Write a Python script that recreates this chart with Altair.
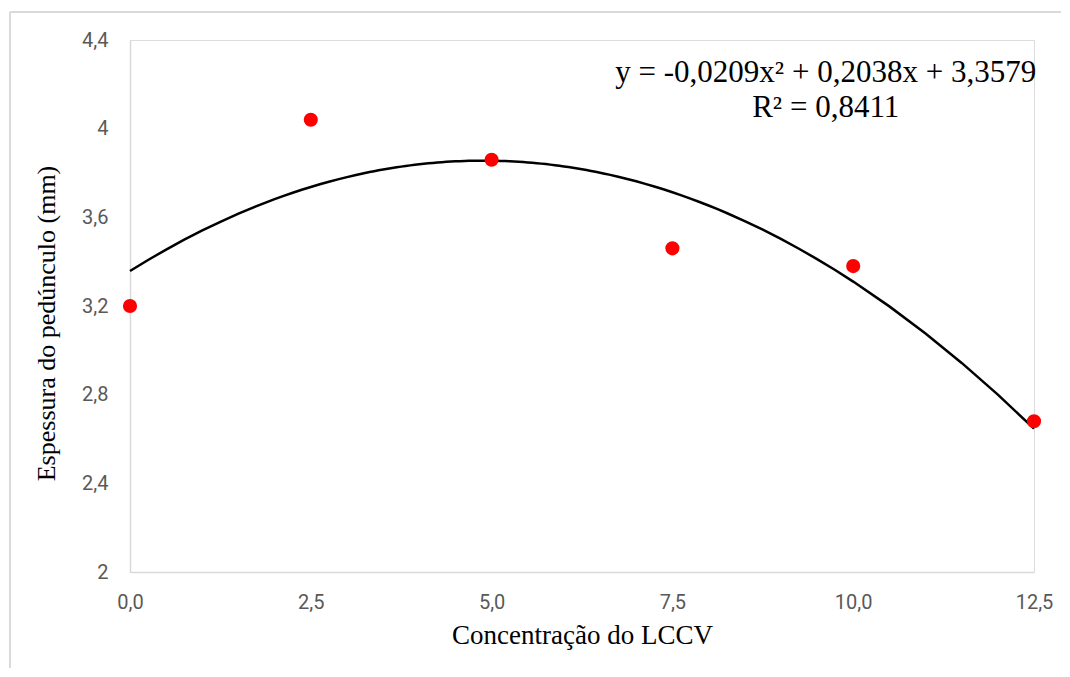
import altair as alt
import pandas as pd

# data
conc = [0.0, 2.5, 5.0, 7.5, 10.0, 12.5]
espessura = [3.20, 4.04, 3.86, 3.46, 3.38, 2.68]
x_ticks = [0.0, 2.5, 5.0, 7.5, 10.0, 12.5]
y_ticks = [2.0, 2.4, 2.8, 3.2, 3.6, 4.0, 4.4]
eq_lines = ["y = -0,0209x² + 0,2038x + 3,3579", "R² = 0,8411"]
eq_x = [9.62, 9.62]
eq_y = [4.251, 4.093]

df = pd.DataFrame({"x": conc, "y": espessura})
df_eq = pd.DataFrame({"x": eq_x, "y": eq_y, "t": eq_lines})

xscale = alt.Scale(domain=[0, 12.5], nice=False, zero=False)
yscale = alt.Scale(domain=[2, 4.4], nice=False, zero=False)

xaxis = alt.Axis(
    title="Concentração do LCCV", values=x_ticks, format=".1f",
    labelExpr="replace(datum.label, '.', ',')", labelFlush=False,
    grid=False, ticks=False, domainColor="#d9d9d9", domainWidth=1.5,
    labelFont="Roboto", labelFontSize=20, labelColor="#595959", labelPadding=20,
    titleFont="Liberation Serif", titleFontSize=27, titleFontWeight="normal",
    titleColor="#000000", titlePadding=10,
)
yaxis = alt.Axis(
    title="Espessura do pedúnculo (mm)", values=y_ticks,
    labelExpr="replace(format(datum.value, '.1~f'), '.', ',')", labelFlush=False,
    grid=False, ticks=False, domainColor="#d9d9d9", domainWidth=1.5,
    labelFont="Roboto", labelFontSize=20, labelColor="#595959", labelPadding=22,
    titleFont="Liberation Serif", titleFontSize=26, titleFontWeight="normal",
    titleColor="#000000", titlePadding=22, titleY=283,
)

base = alt.Chart(df)

curve = base.transform_regression(
    "x", "y", method="poly", order=2, extent=[0, 12.5]
).mark_line(color="black", strokeWidth=2.5).encode(
    x=alt.X("x:Q", scale=xscale, axis=xaxis),
    y=alt.Y("y:Q", scale=yscale, axis=yaxis),
)

points = base.mark_circle(color="#ff0000", size=200, opacity=1).encode(
    x=alt.X("x:Q", scale=xscale),
    y=alt.Y("y:Q", scale=yscale),
)

eq = alt.Chart(df_eq).mark_text(
    font="Liberation Serif", fontSize=31, color="black", align="center", baseline="middle"
).encode(
    x=alt.X("x:Q", scale=xscale),
    y=alt.Y("y:Q", scale=yscale),
    text="t:N",
)

frame_left = alt.Chart(df).mark_rule(color="#d9d9d9", strokeWidth=1, clip=False).encode(
    x=alt.value(-120), y=alt.value(-28), y2=alt.value(720)
)
frame_top = alt.Chart(df).mark_rule(color="#d9d9d9", strokeWidth=1, clip=False).encode(
    x=alt.value(-120), x2=alt.value(1100), y=alt.value(-28)
)

chart = alt.layer(frame_left, frame_top, curve, points, eq).properties(
    width=904, height=532,
    autosize=alt.AutoSizeParams(type="none"),
    padding={"left": 122, "top": 32, "right": 27, "bottom": 96},
).configure_view(strokeWidth=0, stroke="transparent").configure(background="white")

chart.save("out.html", embed_options={"renderer": "svg", "actions": False})
